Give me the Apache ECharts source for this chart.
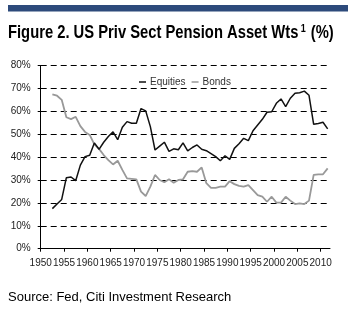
<!DOCTYPE html>
<html>
<head>
<meta charset="utf-8">
<script src="https://cdn.jsdelivr.net/npm/echarts@6/dist/echarts.min.js"></script>
<style>
  html, body { margin: 0; padding: 0; background: #ffffff; }
  #chart { width: 351px; height: 328px; }
</style>
</head>
<body>
<div id="chart"></div>
<script>
// Year-end asset weights of US private-sector pension funds, 1952–2011 (%)
const years = [
  1952, 1953, 1954, 1955, 1956, 1957, 1958, 1959, 1960, 1961,
  1962, 1963, 1964, 1965, 1966, 1967, 1968, 1969, 1970, 1971,
  1972, 1973, 1974, 1975, 1976, 1977, 1978, 1979, 1980, 1981,
  1982, 1983, 1984, 1985, 1986, 1987, 1988, 1989, 1990, 1991,
  1992, 1993, 1994, 1995, 1996, 1997, 1998, 1999, 2000, 2001,
  2002, 2003, 2004, 2005, 2006, 2007, 2008, 2009, 2010, 2011
];
const equities = [
  17.5, 19.5, 21.5, 31.0, 31.3, 29.7, 36.5, 40.2, 40.8, 46.2,
  43.4, 46.5, 49.0, 51.0, 47.6, 53.0, 55.5, 54.8, 54.8, 61.2,
  60.2, 53.3, 43.1, 44.8, 46.5, 42.5, 43.6, 43.2, 46.2, 42.7,
  44.2, 45.3, 43.4, 42.8, 41.5, 40.2, 38.4, 40.6, 39.0, 43.8,
  45.8, 48.2, 47.2, 51.5, 54.0, 56.5, 59.6, 59.8, 63.5, 65.4,
  62.0, 65.7, 67.9, 68.1, 68.8, 67.0, 54.3, 54.7, 55.2, 52.3
];
const bonds = [
  67.4, 66.8, 65.0, 57.4, 56.6, 57.6, 53.5, 51.0, 49.7, 45.6,
  43.6, 40.9, 38.7, 36.8, 38.4, 34.4, 30.7, 30.5, 30.3, 24.9,
  23.0, 27.1, 32.2, 30.0, 29.0, 30.3, 28.8, 30.0, 30.3, 33.6,
  33.9, 33.6, 35.5, 28.6, 26.6, 26.6, 27.1, 27.1, 29.5, 28.2,
  27.4, 27.1, 27.8, 25.6, 23.4, 22.7, 20.5, 22.7, 20.1, 20.1,
  22.7, 21.0, 19.5, 19.8, 19.5, 21.0, 32.2, 32.5, 32.5, 35.1
];
const yTicks = [0, 10, 20, 30, 40, 50, 60, 70, 80];

const sans = '"Liberation Sans", Arial, Helvetica, sans-serif';

// each annual observation sits mid-way across its year on the time scale
const toPoints = vals => years.map((y, i) => [y + 0.5, vals[i]]);

const chart = echarts.init(document.getElementById('chart'), null, { renderer: 'canvas' });

chart.setOption({
  backgroundColor: '#ffffff',
  animation: false,
  legend: {
    data: ['Equities', 'Bonds'],
    left: 134,
    top: 72,
    itemWidth: 7,
    itemHeight: 1.5,
    itemGap: 6,
    icon: 'rect',
    textStyle: { fontFamily: sans, fontSize: 10, color: '#333333', padding: [0, 0, 0, -1] }
  },
  grid: { left: 40.7, right: 21, top: 65.5, bottom: 79.3, containLabel: false },
  xAxis: {
    type: 'value',
    min: 1950,
    max: 2012,
    interval: 5,
    axisLine: { lineStyle: { color: '#000000', width: 1 } },
    axisTick: { show: true, length: 3, lineStyle: { color: '#000000' } },
    axisLabel: {
      fontFamily: sans,
      fontSize: 10,
      color: '#222222',
      margin: 10,
      showMinLabel: true,
      showMaxLabel: false,
      formatter: v => (v <= 2010 ? String(v) : '')
    },
    splitLine: { show: false }
  },
  yAxis: {
    type: 'value',
    min: yTicks[0],
    max: yTicks[yTicks.length - 1],
    interval: 10,
    axisLine: { show: true, lineStyle: { color: '#000000', width: 1 } },
    axisTick: { show: true, length: 3, lineStyle: { color: '#000000' } },
    axisLabel: {
      fontFamily: sans,
      fontSize: 10,
      color: '#222222',
      margin: 10,
      formatter: v => v + '%'
    },
    splitLine: {
      show: true,
      lineStyle: { color: '#000000', width: 1, type: [6, 4] }
    }
  },
  series: [
    {
      name: 'Equities',
      type: 'line',
      data: toPoints(equities),
      symbol: 'none',
      lineStyle: { color: '#111111', width: 1.5 },
      itemStyle: { color: '#111111' },
      z: 3
    },
    {
      name: 'Bonds',
      type: 'line',
      data: toPoints(bonds),
      symbol: 'none',
      lineStyle: { color: '#999999', width: 1.8 },
      itemStyle: { color: '#999999' },
      z: 2
    }
  ],
  graphic: [
    {
      type: 'rect',
      left: 8,
      top: 5,
      shape: { width: 340, height: 6.5 },
      style: { fill: '#2d4a7b' }
    },
    {
      // heading set in a condensed bold face
      type: 'text',
      x: 8,
      y: 32.7,
      scaleX: 0.82,
      style: {
        text: 'Figure 2. US Priv Sect Pension Asset Wts{sup|1} (%)',
        fontFamily: sans,
        fontWeight: 'bold',
        fontSize: 18,
        fill: '#000000',
        verticalAlign: 'middle',
        rich: {
          sup: {
            fontFamily: sans,
            fontWeight: 'bold',
            fontSize: 11,
            verticalAlign: 'top',
            padding: [0, 1, 0, 3],
            fill: '#000000'
          }
        }
      }
    },
    {
      type: 'text',
      left: 8,
      top: 291,
      style: {
        text: 'Source: Fed, Citi Investment Research',
        fontFamily: sans,
        fontSize: 13,
        fill: '#000000'
      }
    }
  ]
});
</script>
</body>
</html>
